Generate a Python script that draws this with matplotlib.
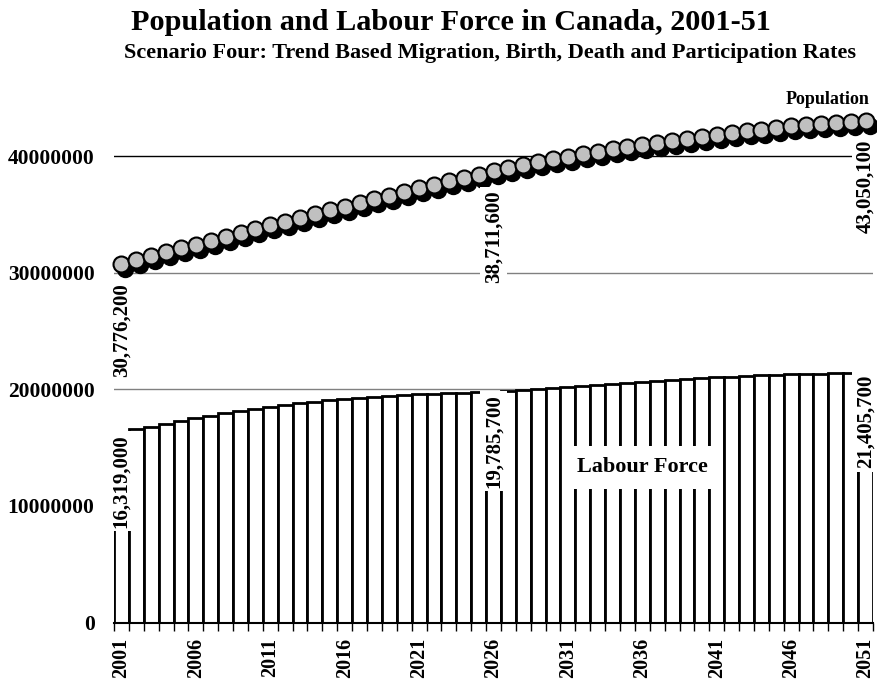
import matplotlib
matplotlib.use("Agg")
import matplotlib.pyplot as plt
import matplotlib.transforms as mtransforms
import numpy as np

years = list(range(2001, 2052))

# population, millions
population = [
    30.7762, 31.10, 31.43, 31.76, 32.09, 32.42, 32.75, 33.08, 33.41, 33.74,
    34.07, 34.40, 34.72, 35.04, 35.36, 35.68, 36.00, 36.31, 36.62, 36.93,
    37.24, 37.54, 37.84, 38.13, 38.42, 38.7116, 38.98, 39.24, 39.49, 39.73,
    39.96, 40.18, 40.39, 40.59, 40.79, 40.98, 41.16, 41.34, 41.51, 41.68,
    41.84, 42.00, 42.15, 42.29, 42.43, 42.56, 42.68, 42.79, 42.89, 42.97,
    43.0501,
]

# labour force, millions
labour = [
    16.319, 16.56, 16.81, 17.05, 17.29, 17.52, 17.74, 17.94, 18.13, 18.31,
    18.48, 18.64, 18.79, 18.93, 19.06, 19.18, 19.28, 19.37, 19.45, 19.52,
    19.58, 19.63, 19.68, 19.72, 19.76, 19.7857, 19.90, 19.96, 20.04, 20.10,
    20.18, 20.27, 20.38, 20.47, 20.56, 20.64, 20.73, 20.81, 20.90, 20.98,
    21.04, 21.10, 21.15, 21.21, 21.27, 21.30, 21.32, 21.35, 21.38, 21.41,
    21.4057,
]

labelled_years = [2001, 2026, 2051]
pop_labels = ["30,776,200", "38,711,600", "43,050,100"]
lab_labels = ["16,319,000", "19,785,700", "21,405,700"]

y_ticks = [0, 10000000, 20000000, 30000000, 40000000]
grid_colors = ["#808080", "#808080", "#808080", "black"]

pop = np.array(population) * 1e6
lab = np.array(labour) * 1e6

plt.rcParams["font.family"] = ["Liberation Serif", "DejaVu Serif"]
plt.rcParams["font.weight"] = "bold"

fig = plt.figure(figsize=(8.77, 6.83), dpi=100)
ax = fig.add_axes([114 / 877, 60.5 / 683, 759 / 877, 524.5 / 683])

for yv, c in zip(y_ticks[1:], grid_colors):
    ax.axhline(yv, color=c, lw=1.0, zorder=0)

ax.bar(years, lab, width=1.0, color="white", edgecolor="black",
       linewidth=2.0, zorder=2)

# shadow markers sit a few pixels down-right of the grey ones
shadow = mtransforms.offset_copy(ax.transData, fig=fig, x=4, y=-5, units="dots")
ax.plot(years, pop, "o", ms=11.5, color="black", mec="black",
        transform=shadow, zorder=3, clip_on=False)
ax.plot(years, pop, "o", ms=11.5, mfc="#C0C0C0", mec="black", mew=1.5,
        zorder=4, clip_on=False)

box = dict(boxstyle="square,pad=0.15", fc="white", ec="none")
for yr, txt in zip(labelled_years, pop_labels):
    v = pop[years.index(yr)]
    ax.annotate(txt, (yr, v), xytext=(0, -19), textcoords="offset pixels",
                rotation=90, ha="center", va="top", fontsize=15,
                fontweight="bold", bbox=box, zorder=5)
for yr, txt in zip(labelled_years, lab_labels):
    v = lab[years.index(yr)]
    ax.annotate(txt, (yr, v), xytext=(0, -2), textcoords="offset pixels",
                rotation=90, ha="center", va="top", fontsize=15,
                fontweight="bold", bbox=box, zorder=5)

ax.text(2036.0, 13.3e6, "Labour Force", ha="center", va="center",
        fontsize=16, fontweight="bold",
        bbox=dict(boxstyle="square,pad=0.5", fc="white", ec="none"), zorder=5)

ax.set_xlim(2000.5, 2051.5)
ax.set_ylim(0, 45e6)

ax.set_yticks(y_ticks)
ax.set_yticklabels([str(v) for v in y_ticks], fontsize=15.5, fontweight="bold")
ax.tick_params(axis="y", length=0, pad=14)

ax.set_xticks(years[::5])
ax.set_xticklabels([str(y) for y in years[::5]], rotation=90,
                   fontsize=14.5, fontweight="bold")
ax.set_xticks(np.arange(2000.5, 2052, 1.0), minor=True)
ax.tick_params(axis="x", which="major", length=0, pad=11)
ax.tick_params(axis="x", which="minor", length=6, width=1.0, direction="out")

for side in ["left", "right", "top"]:
    ax.spines[side].set_visible(False)
ax.spines["bottom"].set_linewidth(1.5)
ax.spines["bottom"].set_zorder(6)

fig.text(451 / 877, 1 - 22 / 683, "Population and Labour Force in Canada, 2001-51",
         ha="center", va="center", fontsize=21.75, fontweight="bold")
fig.text(490 / 877, 1 - 53 / 683,
         "Scenario Four: Trend Based Migration, Birth, Death and Participation Rates",
         ha="center", va="center", fontsize=16, fontweight="bold")
fig.text(828 / 877, 1 - 99 / 683, "Population", ha="center", va="center",
         fontsize=13, fontweight="bold")

fig.savefig("out.png", dpi=100)
